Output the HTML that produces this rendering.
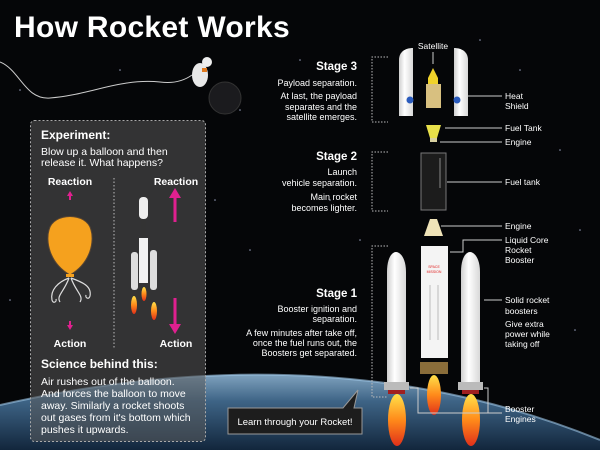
<!DOCTYPE html>
<html><head><meta charset="utf-8"><style>
html,body{margin:0;padding:0;background:#000;width:600px;height:450px;overflow:hidden}
svg{display:block}
text{font-family:"Liberation Sans",sans-serif;fill:#fff}
</style></head><body>
<svg width="600" height="450" viewBox="0 0 600 450" xmlns="http://www.w3.org/2000/svg">
<defs>
<linearGradient id="earth" x1="0" y1="0" x2="0" y2="1">
<stop offset="0" stop-color="#7fa2be"/><stop offset="0.35" stop-color="#3e6486"/><stop offset="1" stop-color="#12263c"/>
</linearGradient>
<linearGradient id="flame" x1="0" y1="0" x2="0" y2="1">
<stop offset="0" stop-color="#ffe14a"/><stop offset="0.5" stop-color="#ff8a1a"/><stop offset="1" stop-color="#e0301a"/>
</linearGradient>
<linearGradient id="body" x1="0" y1="0" x2="1" y2="0">
<stop offset="0" stop-color="#cfcfcf"/><stop offset="0.4" stop-color="#fff"/><stop offset="1" stop-color="#d8d8d8"/>
</linearGradient>
</defs>
<rect width="600" height="450" fill="#050608"/>
<path d="M0 405 Q330 330 600 440 V450 H0Z" fill="url(#earth)"/>
<path d="M0 405 Q330 330 600 440" fill="none" stroke="#9ec7e6" stroke-width="2" opacity="0.6"/>
<g fill="#cfd8ff" opacity="0.7">
<circle cx="20" cy="90" r="0.8"/><circle cx="120" cy="70" r="0.8"/><circle cx="240" cy="110" r="0.8"/><circle cx="300" cy="60" r="0.8"/><circle cx="520" cy="70" r="0.8"/><circle cx="560" cy="150" r="0.8"/><circle cx="580" cy="230" r="0.8"/><circle cx="330" cy="200" r="0.8"/><circle cx="250" cy="250" r="0.8"/><circle cx="360" cy="240" r="0.8"/><circle cx="575" cy="330" r="0.8"/><circle cx="10" cy="300" r="0.8"/><circle cx="215" cy="200" r="0.8"/><circle cx="480" cy="40" r="0.8"/>
</g>
<text x="14" y="37" font-size="30" font-weight="bold" style="letter-spacing:0.3px">How Rocket Works</text>
<path d="M0 62 C20 70 25 100 50 98 C90 95 120 78 160 82 C175 84 185 80 192 75" stroke="#ccc" stroke-width="1" fill="none"/>
<circle cx="225" cy="98" r="16" fill="#1b1b1e" stroke="#333"/>
<ellipse cx="200" cy="75" rx="8" ry="12" fill="#e8e8e8"/>
<circle cx="207" cy="62" r="5" fill="#eee"/>
<rect x="202" y="68" width="5" height="4" fill="#e07a20"/>
<rect x="30.5" y="120.5" width="175" height="321" rx="4" fill="rgba(90,90,90,0.55)" stroke="#aaa" stroke-dasharray="2,2"/>
<text x="41" y="139" font-size="12" font-weight="bold">Experiment:</text>
<text x="41" y="155" font-size="10.5">Blow up a balloon and then</text>
<text x="41" y="166" font-size="10.5">release it. What happens?</text>
<text x="70" y="185" font-size="10.5" font-weight="bold" text-anchor="middle">Reaction</text>
<text x="176" y="185" font-size="10.5" font-weight="bold" text-anchor="middle">Reaction</text>
<text x="70" y="347" font-size="10.5" font-weight="bold" text-anchor="middle">Action</text>
<text x="176" y="347" font-size="10.5" font-weight="bold" text-anchor="middle">Action</text>
<line x1="114" y1="178" x2="114" y2="348" stroke="#bbb" stroke-dasharray="1.5,2"/>
<path d="M70 191 l-3 5 h2 v4 h2 v-4 h2z" fill="#e0208f"/>
<path d="M70 330 l-3 -5 h2 v-4 h2 v4 h2z" fill="#e0208f"/>
<path d="M175 188 l-6 10 h4.5 v24 h3 v-24 h4.5z" fill="#e0208f"/>
<path d="M175 334 l-6 -10 h4.5 v-26 h3 v26 h4.5z" fill="#e0208f"/>
<path d="M70 275 C48 262 46 240 49 230 C53 212 87 212 91 230 C94 240 92 262 70 275Z" fill="#f5a11e" stroke="#5a4632" stroke-width="1"/>
<rect x="66" y="274" width="8" height="3" fill="#f5a11e"/>
<g stroke="#ddd" fill="none" stroke-width="1.2">
<path d="M69 278 C58 282 50 290 52 300 C53 304 57 302 56 299"/><path d="M69 278 C64 292 56 296 60 302"/><path d="M71 278 C76 292 84 296 80 302"/><path d="M71 278 C82 282 92 286 90 296 C89 300 85 298 86 295"/>
</g>
<rect x="139" y="197" width="9" height="22" rx="4" fill="#eee"/>
<rect x="141" y="219" width="5" height="20" fill="#333"/>
<rect x="139" y="238" width="9" height="45" fill="#f2f2f2"/>
<rect x="131" y="252" width="7" height="38" rx="3" fill="#ddd"/>
<rect x="150" y="250" width="7" height="40" rx="3" fill="#ddd"/>
<ellipse cx="134" cy="305" rx="3" ry="9" fill="url(#flame)"/>
<ellipse cx="144" cy="294" rx="2.5" ry="7" fill="url(#flame)"/>
<ellipse cx="154" cy="311" rx="3" ry="9" fill="url(#flame)"/>
<text x="41" y="368" font-size="12" font-weight="bold">Science behind this:</text>
<g font-size="10.5">
<text x="41" y="385">Air rushes out of the balloon.</text>
<text x="41" y="397">And forces the balloon to move</text>
<text x="41" y="409">away. Similarly a rocket shoots</text>
<text x="41" y="421">out gases from it's bottom which</text>
<text x="41" y="433">pushes it upwards.</text>
</g>
<g font-size="9" text-anchor="end">
<text x="357" y="70" font-size="11.5" font-weight="bold">Stage 3</text>
<text x="357" y="86">Payload separation.</text>
<text x="357" y="99">At last, the payload</text>
<text x="357" y="110">separates and the</text>
<text x="357" y="120">satellite emerges.</text>
<text x="357" y="160" font-size="11.5" font-weight="bold">Stage 2</text>
<text x="357" y="175">Launch</text>
<text x="357" y="186">vehicle separation.</text>
<text x="357" y="200">Main rocket</text>
<text x="357" y="211">becomes lighter.</text>
<text x="357" y="297" font-size="11.5" font-weight="bold">Stage 1</text>
<text x="357" y="312">Booster ignition and</text>
<text x="357" y="322">separation.</text>
<text x="357" y="336">A few minutes after take off,</text>
<text x="357" y="346">once the fuel runs out, the</text>
<text x="357" y="356">Boosters get separated.</text>
</g>
<g stroke="#bbb" fill="none" stroke-dasharray="1.5,1.5">
<path d="M388 57 H372 V122 H388"/><path d="M388 152 H372 V211 H388"/><path d="M388 246 H372 V397 H388"/>
</g>
<text x="433" y="49" font-size="8.5" text-anchor="middle">Satellite</text>
<line x1="433" y1="52" x2="433" y2="64" stroke="#ccc"/>
<path d="M399 116 V60 C399 52 405 48 413 48 V116Z" fill="url(#body)"/>
<path d="M468 116 V60 C468 52 462 48 454 48 V116Z" fill="url(#body)"/>
<circle cx="410" cy="100" r="3.5" fill="#2a5bbd"/><circle cx="457" cy="100" r="3.5" fill="#2a5bbd"/>
<path d="M428 108 V78 L433 68 L438 78 V108Z" fill="#f0d22a"/>
<rect x="426" y="84" width="15" height="24" fill="#d8c080"/>
<path d="M426 125 H441 L437 138 H430Z" fill="#e8e04a"/>
<rect x="430" y="138" width="7" height="4" fill="#d8d0a0"/>
<rect x="421" y="153" width="25" height="57" fill="#1c1c1c" stroke="#777"/>
<line x1="440" y1="158" x2="440" y2="188" stroke="#888"/>
<path d="M430 219 H437 L443 236 H424Z" fill="#efe3b8"/>
<rect x="421" y="246" width="27" height="112" fill="#f4f4f4"/>
<text x="434" y="268" font-size="3.5" text-anchor="middle" style="fill:#e02020">SPACE</text>
<text x="434" y="273" font-size="3.5" text-anchor="middle" style="fill:#e02020">MISSION</text>
<line x1="430" y1="285" x2="430" y2="340" stroke="#bbb"/><line x1="438" y1="285" x2="438" y2="340" stroke="#bbb"/>
<rect x="420" y="362" width="28" height="12" fill="#8a6d3a"/>
<ellipse cx="434" cy="395" rx="7" ry="20" fill="url(#flame)"/>
<path d="M387 388 V272 C387 258 392 252 396 252 C400 252 406 258 406 272 V388Z" fill="url(#body)"/>
<path d="M461 388 V272 C461 258 466 252 470 252 C474 252 480 258 480 272 V388Z" fill="url(#body)"/>
<rect x="384" y="382" width="25" height="8" fill="#bbb"/><rect x="458" y="382" width="25" height="8" fill="#bbb"/>
<rect x="388" y="390" width="17" height="4" fill="#a02020"/><rect x="462" y="390" width="17" height="4" fill="#a02020"/>
<ellipse cx="397" cy="420" rx="9" ry="26" fill="url(#flame)"/>
<ellipse cx="471" cy="420" rx="9" ry="26" fill="url(#flame)"/>
<g stroke="#ccc" fill="none">
<line x1="468" y1="96" x2="502" y2="96"/><line x1="445" y1="128" x2="502" y2="128"/><line x1="440" y1="142" x2="502" y2="142"/>
<line x1="447" y1="182" x2="502" y2="182"/><line x1="441" y1="226" x2="502" y2="226"/>
<path d="M450 252 H463 V240 H502"/><line x1="484" y1="300" x2="502" y2="300"/>
<path d="M410 388 H418 V413 H502"/><path d="M484 388 H488 V413"/>
</g>
<g font-size="8.5">
<text x="505" y="99">Heat</text><text x="505" y="109">Shield</text>
<text x="505" y="131">Fuel Tank</text><text x="505" y="145">Engine</text>
<text x="505" y="185">Fuel tank</text><text x="505" y="229">Engine</text>
<text x="505" y="243">Liquid Core</text><text x="505" y="253">Rocket</text><text x="505" y="263">Booster</text>
<text x="505" y="303">Solid rocket</text><text x="505" y="314">boosters</text>
<text x="505" y="327">Give extra</text><text x="505" y="337">power while</text><text x="505" y="347">taking off</text>
<text x="505" y="412">Booster</text><text x="505" y="422">Engines</text>
</g>
<path d="M228 408 H343 L358 390 L354 408 H362 V434 H228Z" fill="#1d1d1d" stroke="#999"/>
<text x="295" y="425" font-size="9.5" text-anchor="middle">Learn through your Rocket!</text>
</svg>
</body></html>
